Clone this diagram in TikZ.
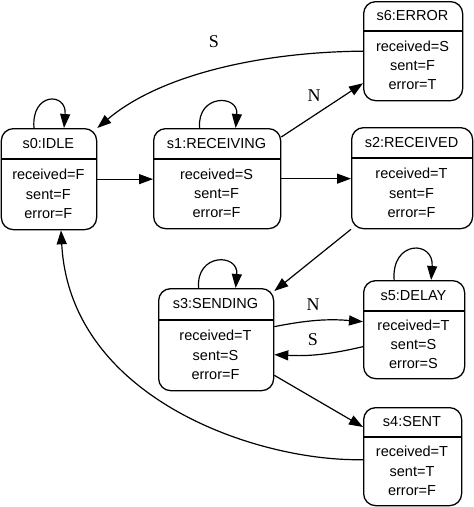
\documentclass[tikz,border=0pt]{standalone}
\usepackage{fontspec}
\setmainfont{Liberation Serif}
\newfontfamily\arialf{Liberation Sans}
\usetikzlibrary{arrows.meta,calc}
\tikzset{
 statebox/.style={draw, line width=1.3pt, rounded corners=12pt, anchor=north west, inner sep=0pt},
 titletext/.style={font=\arialf\fontsize{14.5}{17}\selectfont, inner sep=0pt},
 bodytext/.style={font=\arialf\fontsize{14.5}{19.3}\selectfont, align=center, inner sep=0pt},
 arr/.style={line width=1.2pt, -{Triangle[length=14pt,width=10pt]}},
 lbl/.style={font=\fontsize{18}{20}\selectfont, inner sep=0pt},
}
\newcommand\mystate[8]{%
 \node[statebox, minimum width={(#4-#2)*1pt}, minimum height={(#5-#3)*1pt}] (#1) at (#2,#3) {};
 \draw[line width=1.3pt] (#2,#6) -- (#4,#6);
 \node[titletext] (#1t) at ({(#2+#4)/2},{(#3+#6)/2}) {#7};
 \node[bodytext] (#1b) at ({(#2+#4)/2},{(#6+#5)/2}) {#8};
}
\begin{document}
\begin{tikzpicture}[x=1pt,y=-1pt]
\useasboundingbox (0,0) rectangle (474,507);
\mystate{s0}{0.7}{128}{96}{229}{159}{s0:IDLE}{received=F\\sent=F\\error=F}
\mystate{s1}{153}{128}{280}{228}{159}{s1:RECEIVING}{received=S\\sent=F\\error=F}
\mystate{s2}{351}{127}{472}{228}{158}{s2:RECEIVED}{received=T\\sent=F\\error=F}
\mystate{s6}{363}{1}{462}{100}{31}{s6:ERROR}{received=S\\sent=F\\error=T}
\mystate{s3}{158}{288}{273}{390}{320}{s3:SENDING}{received=T\\sent=S\\error=F}
\mystate{s5}{363}{280}{464}{378}{311}{s5:DELAY}{received=T\\sent=S\\error=S}
\mystate{s4}{363}{407}{461}{505}{437}{s4:SENT}{received=T\\sent=T\\error=F}
% connectors
\draw[arr] (s0.east) -- (s0.east -| s1.west);
\draw[arr] (s1.east) -- (s1.east -| s2.west);
\draw[arr] ([yshift=-9pt]s1.north east) -- ([yshift=18pt]s6.south west);
\draw[arr] (s6.west) .. controls (260,52) and (160,75) .. (s0.north east);
\draw[arr] (s2.south west) -- ([yshift=-3pt]s3.north east);
\draw[arr] ([yshift=13pt]s3.east) to[bend left=8] ([yshift=8pt]s5.west);
\draw[arr] ([yshift=-17pt]s5.west) to[bend left=8] ([yshift=-15pt]s3.east);
\draw[arr] ([yshift=16pt]s3.south east) -- ([yshift=-20pt]s4.north west);
\draw[arr] ([yshift=-3pt]s4.west) .. controls (260,462) and (70,400) .. ([xshift=12pt]s0.south);
% self loops
\draw[arr] ([xshift=-15pt]s0.north) .. controls +(-3,-36) and +(3,-36) .. ([xshift=15pt]s0.north);
\draw[arr] ([xshift=-17.5pt]s1.north) .. controls +(-3,-34) and +(3,-34) .. ([xshift=18.5pt]s1.north);
\draw[arr] ([xshift=-17.5pt]s3.north) .. controls +(-3,-35) and +(3,-35) .. ([xshift=19.5pt]s3.north);
\draw[arr] ([xshift=-20pt]s5.north) .. controls +(-3,-40) and +(3,-40) .. ([xshift=17pt]s5.north);
% labels
\node[lbl] (lS1) at (214,42) {S};
\node[lbl] (lN1) at (314,96) {N};
\node[lbl] (lN2) at (313,305) {N};
\node[lbl] (lS2) at (313,340) {S};
\end{tikzpicture}
\end{document}
